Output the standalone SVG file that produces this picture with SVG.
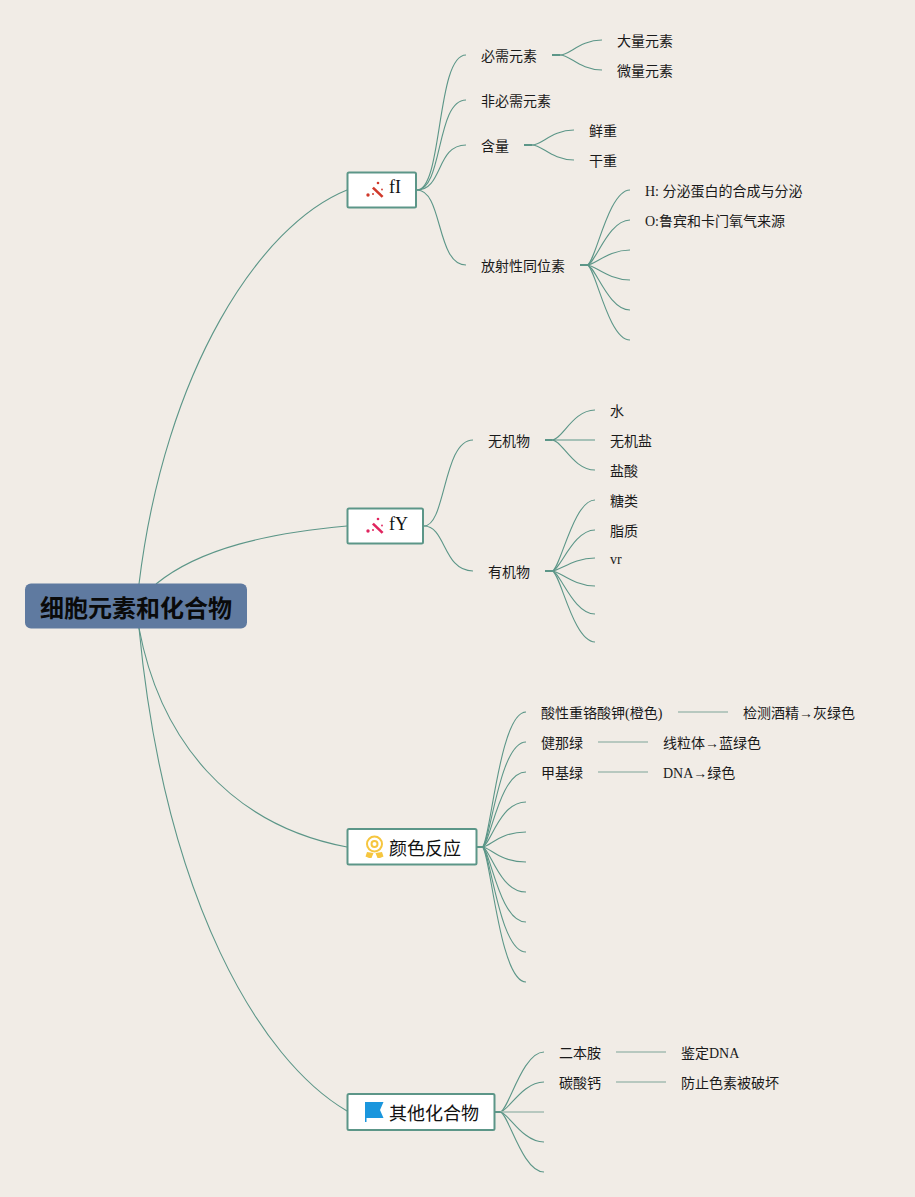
<svg xmlns="http://www.w3.org/2000/svg" width="915" height="1197" viewBox="0 0 915 1197">
<style>
text{font-family:"Liberation Serif","Noto Sans CJK SC",serif;font-size:14px;fill:#1a1a1a}
.t{font-size:18px;fill:#111}
.root{font-family:"Liberation Sans","Noto Sans CJK SC",sans-serif;font-size:24px;font-weight:700;fill:#0a0a0a}
.c path{fill:none;stroke:#5c9688;stroke-width:1.1}
.c .s{stroke:#a3bdb2;stroke-width:1.5}
.c .k{stroke-width:2}
.box{fill:#fff;stroke:#5c9688;stroke-width:2}
</style>
<rect width="915" height="1197" fill="#f1ece6"/>
<g id="connectors" class="c">
<path d="M139 584C165 370 260 225 347 190"/>
<path d="M156 584C200 548 270 533 347 526"/>
<path d="M139 628C160 740 230 825 347 847"/>
<path d="M139 628C165 900 260 1060 347 1111"/>
<path d="M417 190C443 190 436 55 466 55"/>
<path d="M417 190C443 190 436 100 466 100"/>
<path d="M417 190C443 190 436 145 466 145"/>
<path d="M417 190C443 190 436 265 466 265"/>
<path class="k" d="M552 55H560"/>
<path d="M560 55C570 55 580 40 602 40"/>
<path d="M560 55C570 55 580 70 602 70"/>
<path class="k" d="M524 145H532"/>
<path d="M532 145C542 145 552 130 574 130"/>
<path d="M532 145C542 145 552 160 574 160"/>
<path class="k" d="M580 265H587"/>
<path d="M587 265C595 265 608 190 630 190"/>
<path d="M587 265C595 265 608 220 630 220"/>
<path d="M587 265C595 265 608 250 630 250"/>
<path d="M587 265C595 265 608 280 630 280"/>
<path d="M587 265C595 265 608 310 630 310"/>
<path d="M587 265C595 265 608 340 630 340"/>
<path d="M424 526C446 526 443 440 473 440"/>
<path d="M424 526C446 526 443 571 473 571"/>
<path class="k" d="M545 440H552"/>
<path d="M552 440C562 440 573 410 595 410"/>
<path d="M552 440H595"/>
<path d="M552 440C562 440 573 470 595 470"/>
<path class="k" d="M545 571H552"/>
<path d="M552 571C560 571 573 500 595 500"/>
<path d="M552 571C560 571 573 530 595 530"/>
<path d="M552 571C560 571 573 558 595 558"/>
<path d="M552 571C560 571 573 586 595 586"/>
<path d="M552 571C560 571 573 614 595 614"/>
<path d="M552 571C560 571 573 642 595 642"/>
<path class="k" d="M477 847H482"/>
<path d="M482 847C490 847 499 712 526 712"/>
<path d="M482 847C490 847 499 742 526 742"/>
<path d="M482 847C490 847 499 772 526 772"/>
<path d="M482 847C490 847 499 802 526 802"/>
<path d="M482 847C490 847 499 832 526 832"/>
<path d="M482 847C490 847 499 862 526 862"/>
<path d="M482 847C490 847 499 892 526 892"/>
<path d="M482 847C490 847 499 922 526 922"/>
<path d="M482 847C490 847 499 952 526 952"/>
<path d="M482 847C490 847 499 982 526 982"/>
<path class="s" d="M678 712H728"/>
<path class="s" d="M598 742H648"/>
<path class="s" d="M598 772H648"/>
<path class="k" d="M495 1112H500"/>
<path d="M500 1112C508 1112 522 1052 544 1052"/>
<path d="M500 1112C508 1112 522 1082 544 1082"/>
<path class="s" d="M500 1112H544"/>
<path d="M500 1112C508 1112 522 1142 544 1142"/>
<path d="M500 1112C508 1112 522 1172 544 1172"/>
<path class="s" d="M616 1052H666"/>
<path class="s" d="M616 1082H666"/>
</g>
<g id="root"><rect x="25" y="583.500" width="222" height="45" rx="6" fill="#5f7aa0"/><text class="root" x="40" y="617">细胞元素和化合物</text></g>
<g id="topic-fI"><rect class="box" x="347.500" y="172.500" width="68.500" height="35" rx="1.500"/>
<g fill="#d0392b"><path d="M372 188.500l1.800-1.800 9.700 9.300-1.800 1.800z"/><circle cx="378" cy="183" r="1.300"/><circle cx="368" cy="195" r="1.700"/><circle cx="382" cy="189.500" r=".9"/><circle cx="373" cy="194" r="1"/></g>
<text class="t" x="389" y="193">fI</text></g>
<g id="topic-fY"><rect class="box" x="347.500" y="508.500" width="75.500" height="35" rx="1.500"/>
<g fill="#e0245e"><path d="M372 524.500l1.800-1.800 9.700 9.300-1.800 1.800z"/><circle cx="378" cy="519" r="1.300"/><circle cx="368" cy="531" r="1.700"/><circle cx="382" cy="525.500" r=".9"/><circle cx="373" cy="530" r="1"/></g>
<text class="t" x="389" y="530">fY</text></g>
<g id="topic-color"><rect class="box" x="347.500" y="829" width="129" height="35.500" rx="1.500"/>
<g fill="none" stroke="#f6c63f" stroke-width="2"><circle cx="374.500" cy="844" r="7.500"/><circle cx="374.500" cy="844" r="3"/></g>
<path d="M367 852l-1.500 4.500 3.500 1.500 2.500 0 2-5zM382 852l1.500 4.500-3.500 1.500-2.500 0-2-5z" fill="#f6c63f"/>
<text class="t" x="389" y="855">颜色反应</text></g>
<g id="topic-other"><rect class="box" x="347.500" y="1094" width="147" height="36" rx="1.500"/>
<path d="M365 1102H383.500L380 1110 383.500 1118H366.500V1122H365z" fill="#1a96dd"/>
<text class="t" x="389" y="1120">其他化合物</text></g>
<g id="n1"><text x="481" y="61">必需元素</text></g>
<g id="n2"><text x="617" y="46">大量元素</text></g>
<g id="n3"><text x="617" y="76">微量元素</text></g>
<g id="n4"><text x="481" y="106">非必需元素</text></g>
<g id="n5"><text x="481" y="151">含量</text></g>
<g id="n6"><text x="589" y="136">鲜重</text></g>
<g id="n7"><text x="589" y="166">干重</text></g>
<g id="n8"><text x="481" y="271">放射性同位素</text></g>
<g id="n9"><text x="645" y="196">H: 分泌蛋白的合成与分泌</text></g>
<g id="n10"><text x="645" y="226">O:鲁宾和卡门氧气来源</text></g>
<g id="n11"><text x="488" y="446">无机物</text></g>
<g id="n12"><text x="610" y="416">水</text></g>
<g id="n13"><text x="610" y="446">无机盐</text></g>
<g id="n14"><text x="610" y="476">盐酸</text></g>
<g id="n15"><text x="488" y="577">有机物</text></g>
<g id="n16"><text x="610" y="506">糖类</text></g>
<g id="n17"><text x="610" y="536">脂质</text></g>
<g id="n18"><text x="610" y="564">vr</text></g>
<g id="n19"><text x="541" y="718">酸性重铬酸钾(橙色)</text></g>
<g id="n20"><text x="743" y="718">检测酒精→灰绿色</text></g>
<g id="n21"><text x="541" y="748">健那绿</text></g>
<g id="n22"><text x="663" y="748">线粒体→蓝绿色</text></g>
<g id="n23"><text x="541" y="778">甲基绿</text></g>
<g id="n24"><text x="663" y="778">DNA→绿色</text></g>
<g id="n25"><text x="559" y="1058">二本胺</text></g>
<g id="n26"><text x="681" y="1058">鉴定DNA</text></g>
<g id="n27"><text x="559" y="1088">碳酸钙</text></g>
<g id="n28"><text x="681" y="1088">防止色素被破坏</text></g>
</svg>
